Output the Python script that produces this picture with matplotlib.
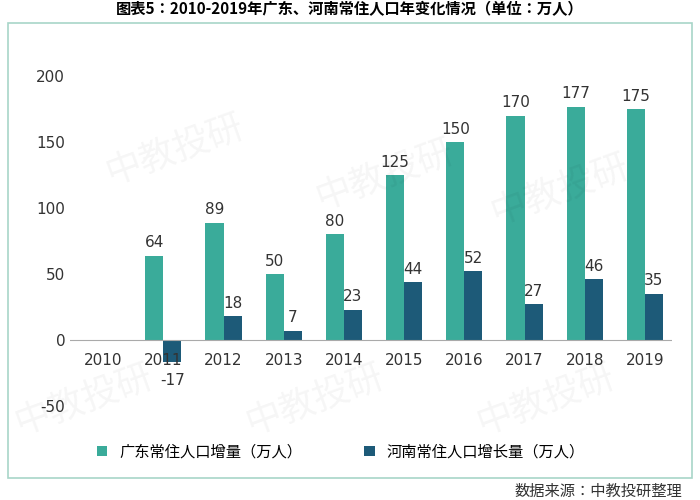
import matplotlib
matplotlib.use("Agg")
import matplotlib.pyplot as plt
from matplotlib import font_manager
import numpy as np
from matplotlib.patches import Rectangle

cands = sorted({f.name for f in font_manager.fontManager.ttflist if 'CJK' in f.name})
sans = [n for n in cands if 'Sans' in n]
pref = [n for n in sans if n.endswith('SC')] or sans or cands
cjk = pref[0] if pref else 'DejaVu Sans'
plt.rcParams['font.family'] = 'sans-serif'
plt.rcParams['font.sans-serif'] = ['DejaVu Sans', cjk]
plt.rcParams['axes.unicode_minus'] = False

years = ["2010","2011","2012","2013","2014","2015","2016","2017","2018","2019"]
gd = [None,64,89,50,80,125,150,170,177,175]
hn = [None,-17,18,7,23,44,52,27,46,35]
gd_name = "广东常住人口增量（万人）"
hn_name = "河南常住人口增长量（万人）"
c1 = "#3aab9a"; c2 = "#1d5a78"
cf = dict(family=cjk)

fig = plt.figure(figsize=(7,5), dpi=100)
fig.patches.append(Rectangle((0.012,0.045),0.976,0.91,transform=fig.transFigure,fill=False,edgecolor="#a8d5c8",lw=1.2))
fig.text(0.5,0.982,"图表5：2010-2019年广东、河南常住人口年变化情况（单位：万人）",ha='center',va='center',fontsize=11,fontweight='bold',**cf)
fig.text(0.975,0.018,"数据来源：中教投研整理",ha='right',va='center',fontsize=11,color='#333',**cf)
ax = fig.add_axes([0.1,0.162,0.86,0.712])
x = np.arange(len(years))
w = 0.3
g = [v if v is not None else 0 for v in gd]
h = [v if v is not None else 0 for v in hn]
ax.bar(x-w/2, g, w, color=c1, label=gd_name)
ax.bar(x+w/2, h, w, color=c2, label=hn_name)
for i in range(len(years)):
    if gd[i] is not None:
        ax.text(x[i]-w/2, gd[i]+4, str(gd[i]), ha='center', va='bottom', fontsize=11, color='#333')
    if hn[i] is not None:
        if hn[i] < 0:
            ax.text(x[i]+w/2, hn[i]-8, str(hn[i]), ha='center', va='top', fontsize=11, color='#333')
        else:
            ax.text(x[i]+w/2, hn[i]+4, str(hn[i]), ha='center', va='bottom', fontsize=11, color='#333')
    ax.text(x[i], -10, years[i], ha='center', va='top', fontsize=11, color='#333')
ax.axhline(0, color='#aaa', lw=0.8)
ax.set_ylim(-60,210)
ax.set_xlim(-0.55, 9.45)
ax.set_yticks([-50,0,50,100,150,200])
ax.set_xticks([])
ax.tick_params(axis='y', length=0, labelsize=11, labelcolor='#333')
for s in ax.spines.values(): s.set_visible(False)
for (fx,fy) in [(0.25,0.7),(0.55,0.65),(0.8,0.62),(0.12,0.2),(0.45,0.2),(0.78,0.2)]:
    fig.text(fx,fy,"中教投研",fontsize=26,color='#000',alpha=0.04,rotation=20,ha='center',va='center',**cf)
ax.legend(loc='upper center', bbox_to_anchor=(0.45,-0.03), ncol=2, frameon=False, prop=dict(family=cjk,size=11), columnspacing=4, handlelength=0.7)
fig.savefig("out.png", dpi=100)
